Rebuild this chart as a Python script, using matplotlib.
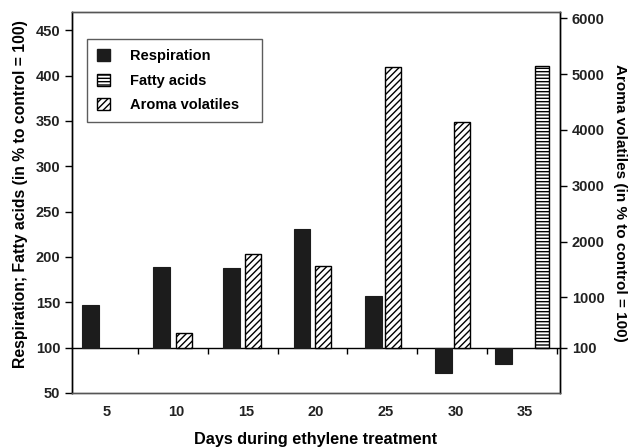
import numpy                as np
import matplotlib
matplotlib.use('Agg')
import matplotlib.pyplot    as plt
from matplotlib.patches     import Patch

plt.rcParams['font.family'] = ['Liberation Sans', 'DejaVu Sans']
plt.rcParams['hatch.linewidth'] = 1.0

days        = [5, 10, 15, 20, 25, 30, 35]
respiration = [147, 189, 188, 231, 157, 72, 82]
# fatty acids only measured at day 35
fatty_days  = [35]
fatty_acids = [410]
aroma_days  = [10, 15, 20, 25, 30]
aroma       = [363, 1780, 1570, 5130, 4145]

base    = 100
k       = 16.25          # right units per left unit
left_lo, left_hi = 50, 470

fig     = plt.figure(figsize=(6.33, 4.48), dpi=100)
ax      = fig.add_axes([0.1137, 0.1228, 0.7710, 0.8504])
ax2     = ax.twinx()

xpos    = np.arange(len(days))
resp_shift = np.array([-0.23, -0.22, -0.21, -0.20, -0.18, -0.17, -0.31])
ax.bar(xpos + resp_shift, np.array(respiration) - base, bottom=base,
       width=0.24, color='#1c1c1c', edgecolor='#1c1c1c', lw=0.8, zorder=3)

fx      = np.array([days.index(d) for d in fatty_days])
ax.bar(fx + 0.24, np.array(fatty_acids) - base, bottom=base, width=0.2,
       color='white', edgecolor='black', hatch='-----', lw=1.0, zorder=3)

ax_ = np.array([days.index(d) for d in aroma_days])
ax2.bar(ax_ + 0.10, np.array(aroma) - base, bottom=base, width=0.23,
        color='white', edgecolor='black', hatch='/////', lw=1.0, zorder=3)

ax.set_xlim(-0.5, len(days) - 0.5)
ax.set_ylim(left_lo, left_hi)
ax2.set_ylim(base - (base - left_lo) * k, base + (left_hi - base) * k)

ax.set_yticks(np.arange(50, 451, 50))
ax2.set_yticks([100, 1000, 2000, 3000, 4000, 5000, 6000])
ax.set_xticks(xpos)
ax.set_xticklabels([str(d) for d in days])
ax.tick_params(axis='x', length=0, pad=9)
ax.tick_params(axis='y', length=5, width=1, direction='out')
ax2.tick_params(axis='y', length=5, width=1, direction='out')
for lab in ax.get_xticklabels() + ax.get_yticklabels() + ax2.get_yticklabels():
    lab.set_fontsize(10.5)
    lab.set_fontweight('bold')
    lab.set_color('#222222')

# baseline axis at 100 with ticks between categories
yfrac   = (base - left_lo) / (left_hi - left_lo)
sec     = ax.secondary_xaxis(yfrac)
sec.set_xticks(np.arange(0.45, len(days), 1.0))
sec.tick_params(axis='x', length=4, width=1, direction='out', labelbottom=False, labeltop=False)
sec.spines['bottom'].set_linewidth(1.0)

for s in ['top', 'bottom']:
    ax.spines[s].set_color('#555555')
    ax2.spines[s].set_color('#555555')
for a in (ax, ax2):
    for s in a.spines.values():
        s.set_linewidth(1.0)

ax.set_xlabel('Days during ethylene treatment', fontsize=11.7, fontweight='bold', labelpad=9)
ax.set_ylabel('Respiration; Fatty acids (in % to control = 100)', fontsize=11.3,
              fontweight='bold')
ax.yaxis.set_label_coords(-0.09, 0.521)
ax2.set_ylabel('Aroma volatiles (in % to control = 100)', fontsize=11,
               fontweight='bold', rotation=270, labelpad=16)

handles = [Patch(facecolor='#1c1c1c', edgecolor='#1c1c1c', label='Respiration'),
           Patch(facecolor='white', edgecolor='black', hatch='-----', label='Fatty acids'),
           Patch(facecolor='white', edgecolor='black', hatch='/////', label='Aroma volatiles')]
leg = ax2.legend(handles=handles, loc='upper left', bbox_to_anchor=(0.0307, 0.5, 0.3586, 0.429),
                 mode='expand', frameon=True, fancybox=False, edgecolor='#333333',
                 handlelength=0.9, handleheight=0.9, handletextpad=1.37, borderpad=0.7,
                 labelspacing=0.7, borderaxespad=0, prop={'size': 10.5, 'weight': 'bold'})
leg.get_frame().set_linewidth(1.0)

fig.savefig('out.png', dpi=100)
